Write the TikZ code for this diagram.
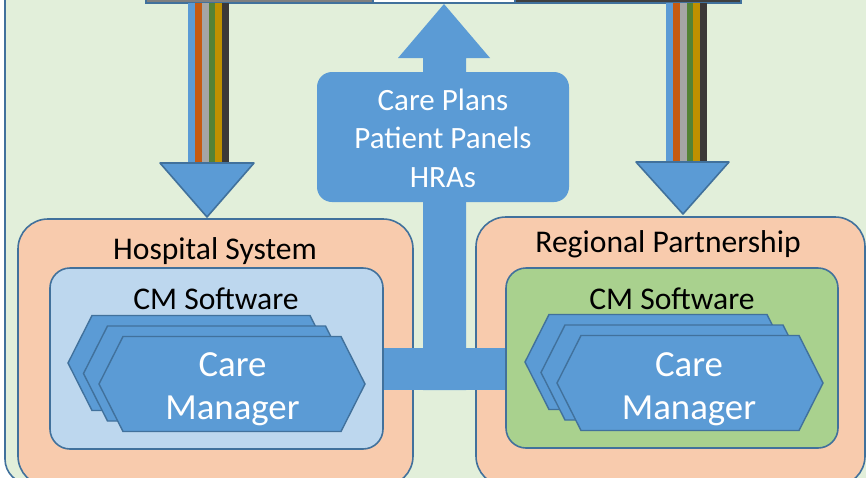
\documentclass[tikz,border=0pt]{standalone}
\usepackage{fontspec}
\setmainfont{Carlito}
\usepackage{tikz}
\usetikzlibrary{arrows.meta}

\definecolor{bgreen}{HTML}{E2EFDA}
\definecolor{edgeblue}{HTML}{41719C}
\definecolor{fillblue}{HTML}{5B9BD5}
\definecolor{peach}{HTML}{F8CBAD}
\definecolor{paleblue}{HTML}{BDD7EE}
\definecolor{leafgreen}{HTML}{A9D18E}
\definecolor{stgray}{HTML}{A5A5A5}
\definecolor{storange}{HTML}{C55A11}
\definecolor{stgreen}{HTML}{548235}
\definecolor{stgold}{HTML}{BF9000}
\definecolor{stdark}{HTML}{3B3838}
\definecolor{bargray}{HTML}{7F7F7F}
\definecolor{bardark}{HTML}{404040}

\tikzset{
  orgbox/.style={draw=edgeblue, line width=1.6pt, fill=peach, rounded corners=30pt},
  swbox/.style={draw=edgeblue, line width=1.6pt, rounded corners=20pt},
  hexa/.style={draw=edgeblue, line width=1.4pt, fill=fillblue, line join=miter},
  feedhead/.style={draw=edgeblue, line width=1.6pt, fill=fillblue, line join=round},
  label/.style={inner sep=0pt, font=\fontsize{31.6}{38}\selectfont},
  whitetext/.style={inner sep=0pt, text=white, align=center},
}

% one care manager card, #1,#2 = left point
\newcommand{\carecard}[2]{%
  \draw[hexa] (#1,#2) -- ++(24,-47.5) -- ++(218,0) -- ++(24,47.5)
    -- ++(-24,47.5) -- ++(-218,0) -- cycle;}

\begin{document}
\begin{tikzpicture}[x=1pt,y=-1pt]
  \useasboundingbox (0,0) rectangle (866,477);
  \clip (0,0) rectangle (866,477);

  % backdrop and source bar
  \draw[draw=edgeblue, line width=1.6pt, fill=bgreen, rounded corners=25pt] (5,-40) rectangle (900,484);
  \draw[draw=edgeblue, line width=1.5pt, fill=bargray] (146,-10) rectangle (373,3);
  \draw[draw=edgeblue, line width=1.5pt, fill=white] (373,-10) rectangle (515,3);
  \draw[draw=edgeblue, line width=1.5pt, fill=bardark] (515,-10) rectangle (741,3);

  % organisations
  \draw[orgbox] (18,219) rectangle (413,486);
  \node[label] (hosp) at (215,251) {Hospital System};
  \draw[orgbox] (476,217) rectangle (865,486);
  \node[label] (regl) at (668,244) {Regional Partnership};

  % striped feeds down
  \foreach \c [count=\i from 0] in {fillblue,storange,stgray,stgreen,stgold,stdark}
    \fill[\c] (188+\i*6.85,3) rectangle ++(6.85,161);
  \draw[feedhead] (160,163) -- (254,163) -- (207,217) -- cycle;
  \foreach \c [count=\i from 0] in {fillblue,storange,stgray,stgreen,stgold,stdark}
    \fill[\c] (666+\i*6.85,3) rectangle ++(6.85,160);
  \draw[feedhead] (636,162) -- (729,162) -- (683,214) -- cycle;

  % shared data going up
  \fill[fillblue] (370,348) rectangle (520,390);
  \fill[fillblue] (423,390) -- (423,58) -- (398,58) -- (444,4) -- (490,58)
    -- (466,58) -- (466,390) -- cycle;
  \fill[fillblue, rounded corners=15pt] (317,72) rectangle (569,202);
  \node[whitetext, font=\fontsize{31}{38.5}\selectfont] (plans) at (443,138)
    {Care Plans\\Patient Panels\\HRAs};

  % care management software
  \draw[swbox, fill=paleblue] (50,268) rectangle (383,449);
  \node[label] (hospsw) at (216,299) {CM Software};
  \draw[swbox, fill=leafgreen] (506,268) rectangle (838,448);
  \node[label] (reglsw) at (672,299) {CM Software};

  \carecard{68}{363}
  \carecard{83.5}{373.5}
  \carecard{99}{384}
  \node[whitetext, font=\fontsize{36.8}{43}\selectfont] (mgr-l) at (232.5,389) {Care\\Manager};

  \carecard{525}{362}
  \carecard{541}{372.5}
  \carecard{557}{383}
  \node[whitetext, font=\fontsize{36.8}{43}\selectfont] (mgr-r) at (689,389) {Care\\Manager};
\end{tikzpicture}
\end{document}
